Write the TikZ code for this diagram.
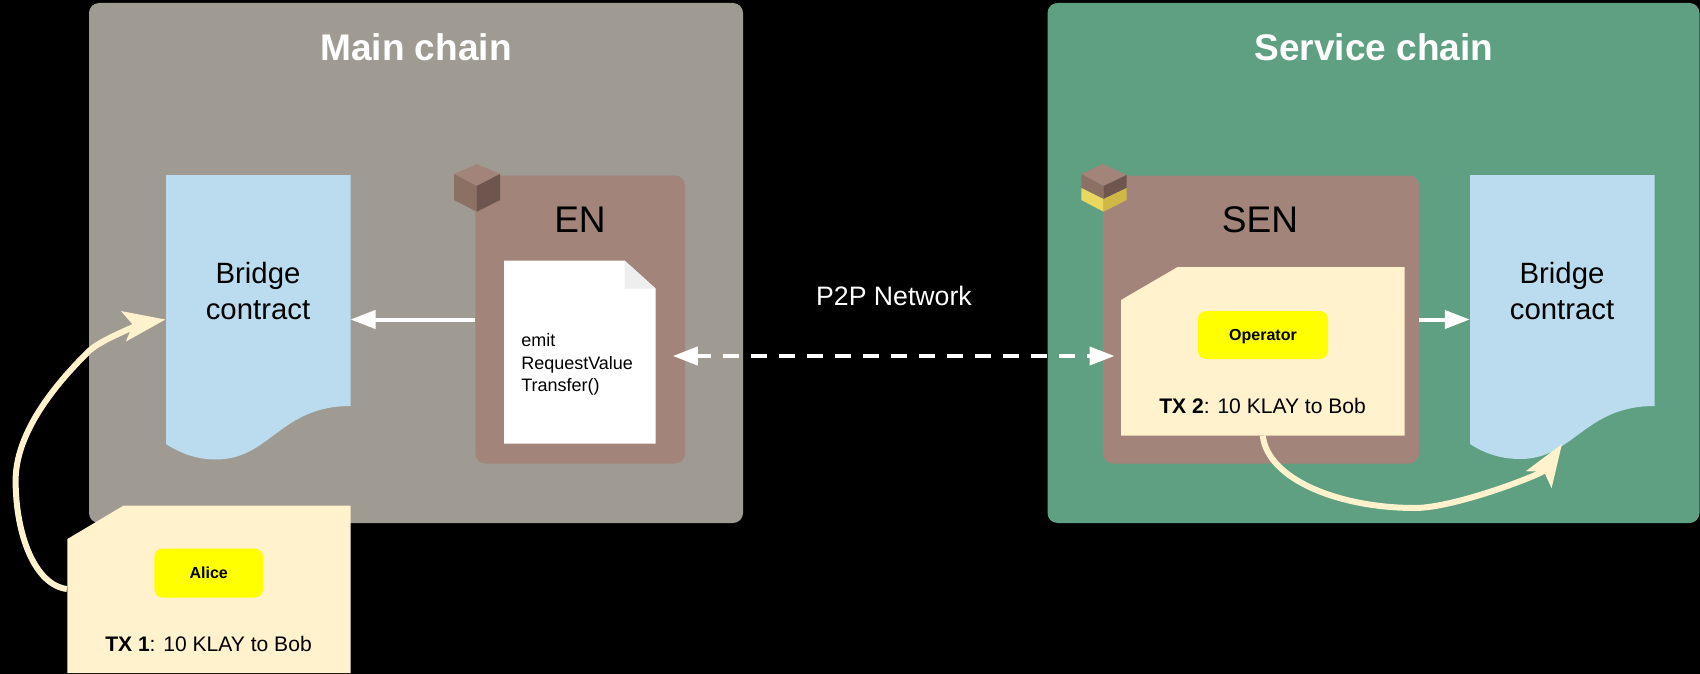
\documentclass[tikz,border=0pt]{standalone}
\usepackage{fontspec}
\setmainfont{Liberation Sans}
\usetikzlibrary{arrows.meta}
\definecolor{mainbg}{HTML}{9F9B93}
\definecolor{svcbg}{HTML}{5FA083}
\definecolor{nodebox}{HTML}{A2847A}
\definecolor{bridgeblue}{HTML}{BBDCEF}
\definecolor{creamy}{HTML}{FFF2CC}
\definecolor{foldgrey}{HTML}{EEEEEE}
\definecolor{pureyellow}{RGB}{255,255,0}
\definecolor{cubetop}{HTML}{A2847A}
\definecolor{cubeleft}{HTML}{8C7063}
\definecolor{cuberight}{HTML}{6E564F}
\definecolor{yelleft}{HTML}{EAD75F}
\definecolor{yelright}{HTML}{CFB846}
\newcommand{\fs}[1]{\fontsize{#1}{#1}\selectfont}
\tikzset{
  x=0.75pt,y=-0.75pt,
  panel/.style={fill=#1,rounded corners=7.5pt,inner sep=0pt,minimum height=520*0.75pt},
  nodepanel/.style={fill=nodebox,rounded corners=7.5pt,inner sep=0pt,minimum height=288*0.75pt},
  ghost/.style={inner sep=0pt,minimum height=288*0.75pt,minimum width=184.5*0.75pt},
  pill/.style={fill=pureyellow,rounded corners=6pt,inner sep=0pt,text height=8.6pt,text depth=0pt,font=\fs{12pt}\bfseries},
  title/.style={text=white,font=\fs{27.8pt}\bfseries,inner sep=0pt},
  heading/.style={text=black,font=\fs{27.8pt},inner sep=0pt},
  bridgetext/.style={text=black,font=\fs{22pt},align=center,inner sep=0pt},
  txtext/.style={text=black,font=\fs{15.8pt},inner sep=0pt},
  whitearrow/.style={draw=white,line width=3pt,-{Triangle[length=25*0.75pt,width=18*0.75pt]}},
  creamarrow/.style={draw=creamy,line width=6*0.75pt,-{Stealth[length=42*0.75pt,width=30*0.75pt,inset=9*0.75pt,fill=creamy]}},
}
\begin{document}
\begin{tikzpicture}
\fill[black] (0,0) rectangle (1700,674);
\useasboundingbox (0,0) rectangle (1700,674);
% panels
\node[panel=mainbg,minimum width=654*0.75pt] (mainpanel) at (416,263) {};
\node[panel=svcbg,minimum width=652*0.75pt] (svcpanel) at (1373.5,263) {};
\node[title] (maintitle) at (416,47.5) {Main chain};
\node[title] (svctitle) at (1374,47.5) {Service chain};
% left bridge
\node[ghost] (bridgeA) at (258,319.5) {};
\fill[bridgeblue] (166,175) -- (350.5,175) -- (350.5,406)
  .. controls (280,406) and (270,459.5) .. (216,459.5)
  .. controls (196,459.5) and (180,453) .. (166,444) -- cycle;
\node[bridgetext] (bridgeAtext) at (258,291) {Bridge\\[5pt]contract};
% EN box
\node[nodepanel,minimum width=209.6*0.75pt] (en) at (580.2,319.5) {};
\node[heading] (enlabel) at (580,220) {EN};
\fill[white] (504,260.5) -- (624.5,260.5) -- (655.5,288.5) -- (655.5,443.5) -- (504,443.5) -- cycle;
\fill[foldgrey] (624.5,260.5) -- (655.5,288.5) -- (624.5,288.5) -- cycle;
\node[anchor=west,inner sep=0pt,font=\fs{13.5pt},align=left,text=black] (doctext) at (521,364.5) {emit\\[3.5pt]RequestValue\\[3.5pt]Transfer()};
\coordinate (doctip) at (672.8,356);
% EN cube
\fill[cubetop] (476.7,164) -- (500,174) -- (476.7,186) -- (454,174) -- cycle;
\fill[cubeleft] (454,174) -- (476.7,186) -- (476.7,211.7) -- (454,200) -- cycle;
\fill[cuberight] (500,174) -- (476.7,186) -- (476.7,211.7) -- (500,200) -- cycle;
% SEN box
\node[nodepanel,minimum width=316*0.75pt] (sen) at (1261,319.5) {};
\node[heading] (senlabel) at (1260,220) {SEN};
% SEN cube
\fill[cubetop] (1102.7,164) -- (1126.7,175) -- (1103.5,186) -- (1081.3,174) -- cycle;
\fill[cubeleft] (1081.3,174) -- (1103.5,186) -- (1103.5,199) -- (1081.3,188) -- cycle;
\fill[cuberight] (1126.7,175) -- (1103.5,186) -- (1103.5,199) -- (1126.7,188) -- cycle;
\fill[yelleft] (1081.3,188) -- (1103.5,199) -- (1103.5,211.7) -- (1081.3,200) -- cycle;
\fill[yelright] (1126.7,188) -- (1103.5,199) -- (1103.5,211.7) -- (1126.7,200) -- cycle;
% right bridge
\node[ghost] (bridgeB) at (1562.3,319.5) {};
\fill[bridgeblue] (1470,175) -- (1654.5,175) -- (1654.5,406)
  .. controls (1584,406) and (1574,459) .. (1520,459)
  .. controls (1500,459) and (1484,453) .. (1470,444) -- cycle;
\node[bridgetext] (bridgeBtext) at (1562,291) {Bridge\\[5pt]contract};
\coordinate (bridgeBnotch) at (1562,444);
% SEN card
\fill[creamy] (1177.6,267) -- (1404.5,267) -- (1404.5,435.5) -- (1121,435.5) -- (1121,300) -- cycle;
\node[inner sep=0pt,minimum width=283.5*0.75pt,minimum height=168.5*0.75pt] (card) at (1262.75,351.25) {};
\node[pill,minimum width=130*0.75pt,minimum height=48*0.75pt] (operator) at (1263,335) {Operator};
\node[txtext] (tx2) at (1262.6,406) {\textbf{TX 2}: 10 KLAY to Bob};
\coordinate (cardtip) at (1114.5,356);
% connectors
\draw[whitearrow] (en.west) -- (bridgeA.east);
\draw[whitearrow] (sen.east) -- (bridgeB.west);
\draw[white,line width=3pt,dash pattern=on 12pt off 9pt,dash phase=1.5pt,{Triangle[length=25*0.75pt,width=18*0.75pt]}-{Triangle[length=25*0.75pt,width=18*0.75pt]}] (doctip) -- (cardtip);
\node[text=white,font=\fs{20pt},inner sep=0pt] (p2p) at (894,296) {P2P Network};
\draw[creamarrow] (card.south) .. controls (1268,480) and (1340,508) .. (1415,508)
  .. controls (1455,508) and (1542.3,474.1) .. (bridgeBnotch);
% Alice card
\node[inner sep=0pt,minimum width=283*0.75pt,minimum height=168*0.75pt] (cardA) at (208.7,589) {};
\draw[creamarrow] (cardA.west) .. controls (35,585) and (15.6,535) .. (15.6,480)
  .. controls (16,425) and (68,372) .. (89,351)
  .. controls (104,337) and (150,322) .. (bridgeA.west);
\fill[creamy] (123.7,505.5) -- (350.5,505.5) -- (350.5,673) -- (67.4,673) -- (67.4,539) -- cycle;
\node[pill,minimum width=108.5*0.75pt,minimum height=49*0.75pt] (alice) at (208.7,573) {Alice};
\node[txtext] (tx1) at (208.5,643.5) {\textbf{TX 1}: 10 KLAY to Bob};
\end{tikzpicture}
\end{document}
